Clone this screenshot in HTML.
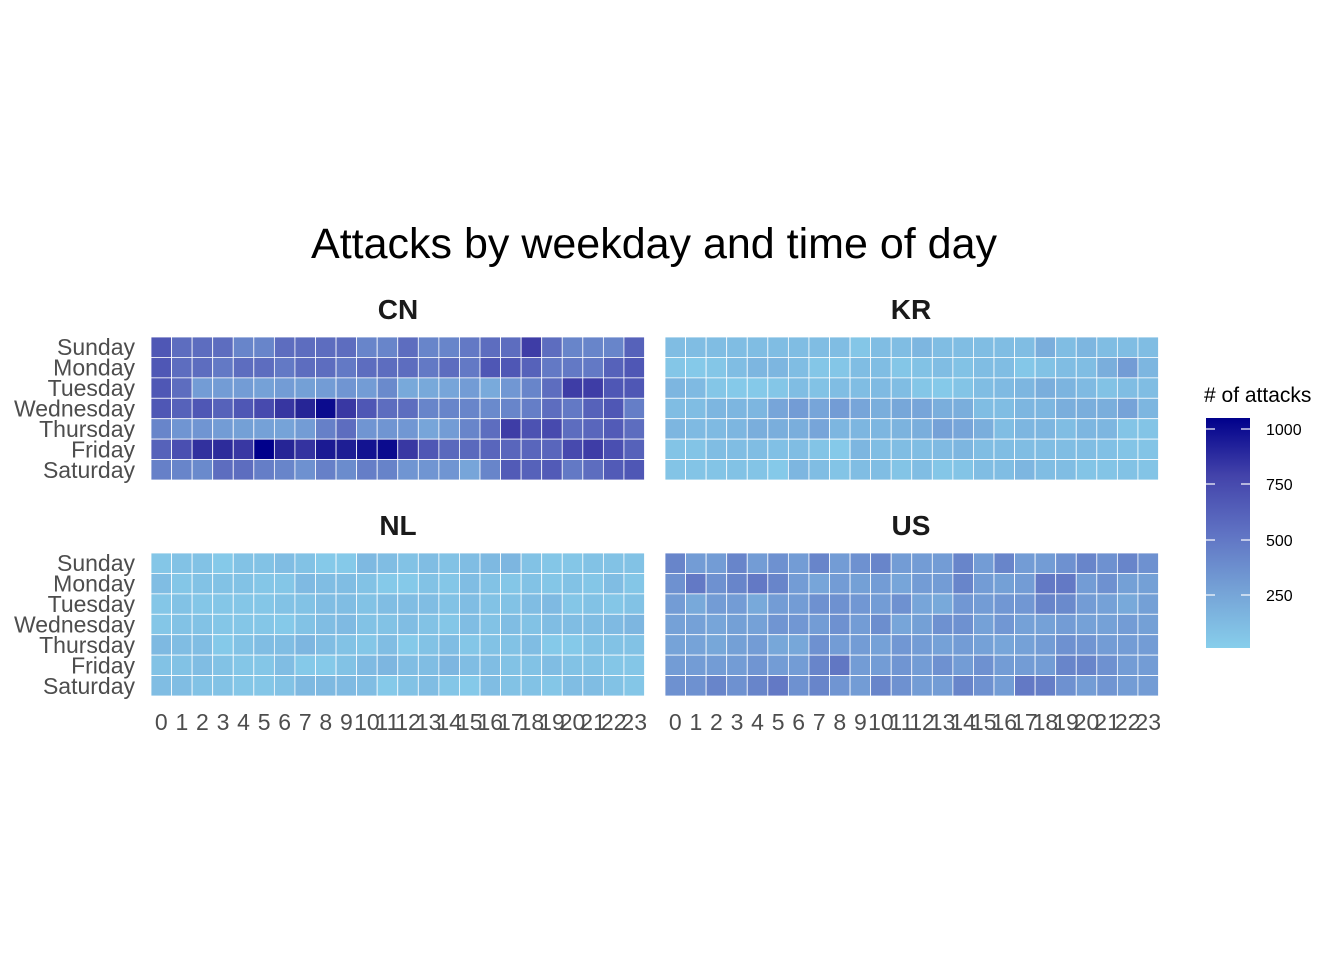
<!DOCTYPE html>
<html><head><meta charset="utf-8"><style>
html,body{margin:0;padding:0;background:#fff;}
svg text{font-family:"Liberation Sans",Arial,sans-serif;}
</style></head><body>
<svg id="s" width="1344" height="960" xmlns="http://www.w3.org/2000/svg">
<defs><linearGradient id="lg" x1="0" y1="1" x2="0" y2="0">
<stop offset="0" stop-color="#87CEEB"/><stop offset="0.25" stop-color="#75A2D6"/>
<stop offset="0.5" stop-color="#5F72C3"/><stop offset="0.75" stop-color="#4343AA"/>
<stop offset="1" stop-color="#00008B"/></linearGradient></defs>
<rect width="1344" height="960" fill="#fff"/>
<text x="654" y="258" font-size="43" text-anchor="middle" fill="#000">Attacks by weekday and time of day</text>
<text x="398" y="319" font-size="28" font-weight="bold" text-anchor="middle" fill="#1a1a1a">CN</text>
<text x="911" y="319" font-size="28" font-weight="bold" text-anchor="middle" fill="#1a1a1a">KR</text>
<text x="398" y="535" font-size="28" font-weight="bold" text-anchor="middle" fill="#1a1a1a">NL</text>
<text x="911" y="535" font-size="28" font-weight="bold" text-anchor="middle" fill="#1a1a1a">US</text>
<g id="cells"></g>
<g id="labels" font-size="23" fill="#4d4d4d"></g>
<text x="1204" y="402" font-size="21" fill="#000"># of attacks</text>
<rect x="1206" y="418" width="44" height="230" fill="url(#lg)"/>
<g stroke="#fff" stroke-width="1.2">
<line x1="1206" y1="429" x2="1215" y2="429"/><line x1="1241" y1="429" x2="1250" y2="429"/>
<line x1="1206" y1="484" x2="1215" y2="484"/><line x1="1241" y1="484" x2="1250" y2="484"/>
<line x1="1206" y1="540" x2="1215" y2="540"/><line x1="1241" y1="540" x2="1250" y2="540"/>
<line x1="1206" y1="595" x2="1215" y2="595"/><line x1="1241" y1="595" x2="1250" y2="595"/>
</g>
<g font-size="16" fill="#000">
<text x="1266" y="435">1000</text><text x="1266" y="490">750</text>
<text x="1266" y="546">500</text><text x="1266" y="601">250</text>
</g>
</svg>
<script>
var stops=[[0,[135,206,235]],[1,[128,189,227]],[2,[122,174,220]],[3,[115,156,213]],[4,[104,133,202]],[5,[93,109,191]],[6,[79,87,181]],[7,[62,61,166]],[8,[38,37,150]],[9,[0,0,139]]];
function col(v){if(v<=0)return 'rgb(135,206,235)';if(v>=9)return 'rgb(0,0,139)';var i=Math.floor(v),f=v-i,a=stops[i][1],b=stops[i+1][1];
return 'rgb('+[0,1,2].map(function(k){return Math.round(a[k]+(b[k]-a[k])*f)}).join(',')+')';}
var CN=[
[6,5,5,5,4,4,5,5,5,5,4,4,5,4,4,4.5,5,5,7,5,4,4,4,5.5],
[6,5,5,4.5,5,5,4.5,5,5,4.5,5,5,5,4.5,5,4.5,6,6,5.5,4.5,4.5,4.5,5.5,6],
[6,5,3,3,3,2.7,3,2.8,3,3.3,3,3.8,2.3,2.3,2.5,3,2.2,3.2,4,5,7,7,6,6],
[6,5.5,6,5.5,6,6.5,7.3,8,8.7,7.2,6,5,5,4,4,4,3.8,4,4.3,5,4.5,5.5,6,4.3],
[4,3.3,3.3,3,2.8,2.7,2.6,3,4.2,5,3.3,3.3,3.2,2.5,3,4,5,7,6.2,6.5,5,5.3,5.8,5],
[5.5,6.3,7.5,7.7,7.2,9,8,7.4,8.3,8.2,8.5,8.7,7.2,6,5.2,5.2,5.3,5.3,5.3,5.3,6.5,7,6.3,5.5],
[4.2,4,3.8,5,5,4.3,4,3.5,4.2,3.7,4.3,4.1,3.3,3.3,3.3,2.5,4,5.8,5.5,5.8,4.5,5,5.8,6]];
var KR=[
[1,1,1,1,1,1,1,1,1,0.5,1,1,1.5,1,1,1,1,1,2,1,1.5,1,1,1],
[0.5,0.3,0.5,1,1.5,1.5,1,0.5,0.5,1,1,0.5,0.7,1,0.7,1,1,0.4,0.7,1,1,2,3,1.5],
[1.5,1.2,0.5,0.3,0.3,0.5,1,0.7,1,1,1.2,1,0.5,0.3,0.6,1,1.2,1.5,2,1.6,1.2,0.7,1,1],
[1,1,1.5,1.5,1.5,2.5,3,2.5,3,2.5,2,2.4,2.5,2,2,1,1,1.5,1.5,2,2,2,2.6,1.5],
[1.5,1.2,1.2,1.5,2,2,2,2.5,1.5,1.5,1.5,1.7,2,2.7,2.5,2,1,1.5,1.5,1,1.5,1.5,0.6,0.6],
[0.6,0.6,1,1,1,0.8,1,0.6,0.3,1.5,1,1,1,1.2,1.5,1,1,1,1,1,1,0.8,0.6,0.6],
[0.6,0.6,0.6,0.7,0.6,0.3,1.5,1,0.6,1,1,0.6,1,0.5,0.6,1,1,1.5,1,1,0.6,0.6,0.7,0.6]];
var NL=[
[.5,.7,.7,.3,.7,.7,1,.7,.3,.3,1.3,1,.7,1,.7,1,1.3,1.5,.7,.5,.5,.7,.7,.7],
[1,.5,.7,.7,.7,.5,.5,1.2,1,1,.7,.3,.3,.7,.5,1,.7,.5,.7,.5,.7,.5,1,.5],
[.5,.7,.5,.5,.5,.5,.7,.7,1,1,.7,1,1,1,.7,1,.7,.7,1,1.2,.5,.7,.5,.7],
[.5,.7,.7,.5,.5,.5,.3,.7,1,1.2,.7,.7,1,.7,.5,1,.7,1,.7,1,1,1,1.2,1.5],
[1.3,1,1,.3,.7,1,1,1.5,1,.7,.5,1,.3,.7,1,.5,.7,.7,1,.3,.3,.7,.7,.7],
[.7,.7,1,.7,.5,.5,1,.3,.3,.7,1.2,1.5,1,1,1.5,1,1,.7,.7,1,.7,.7,.5,.5],
[1,1,.7,.7,.5,.5,.7,1.3,1.3,1.2,1,.3,.7,1,.5,.3,1,.7,.7,.5,1,1,.7,.5]];
var US=[
[4,3,3,4,3,3.5,3,4,3,3.5,4,3,3,3,4,3,4,3,3,3.5,4,3.5,4,3.5],
[3.5,4.5,3.5,4,4.5,4,3,2.5,3,2.8,3,2.5,3,3,4,3,2.8,3,4.5,4.5,3,3.5,2.8,2.8],
[3,2.3,3,3,2.3,3,3,3.5,3.5,3.2,3,3.5,2.5,2.3,3.2,3,3.2,3.2,4,3.8,3,2.7,2.3,2.8],
[2.7,2.7,2.5,2.8,2.7,3.3,3.2,3,3.5,3,3.6,2.5,2.8,3.5,3.5,2.7,3.2,2.7,2.7,3,2.7,2.7,3,2.8],
[2.6,2.6,2.4,2.8,3,2.4,2.4,3.5,3,3,2.7,3.2,3,2.7,3,2.7,2.5,2.7,3,3.5,3.3,3,3,3],
[3,3,3,3,3.3,3,3,4,4.6,3,3,3.3,3,3.5,3,3.5,3,3,3,4,4,3.5,3,3],
[3.5,3.5,4,3.5,4,4.5,3.5,4,3.3,3,4,3.5,3,3,4,3.5,3,4.5,4.3,3.5,3,3.3,3,3]];
var NS='http://www.w3.org/2000/svg',g=document.getElementById('cells'),L=document.getElementById('labels');
function el(t,a,p){var e=document.createElementNS(NS,t);for(var k in a)e.setAttribute(k,a[k]);p.appendChild(e);return e;}
var W=493.5/24,H=143/7;
function panel(d,x0,y0){for(var r=0;r<7;r++)for(var c=0;c<24;c++)
el('rect',{x:x0+c*W,y:y0+r*H,width:W,height:H,fill:col(d[r][c]),stroke:'#fff','stroke-width':0.8},g);}
panel(CN,151,337);panel(KR,665,337);panel(NL,151,553);panel(US,665,553);
var days=['Sunday','Monday','Tuesday','Wednesday','Thursday','Friday','Saturday'];
[337,553].forEach(function(y0){days.forEach(function(d,i){var t=el('text',{x:135,y:y0+i*H+H/2+8,'text-anchor':'end'},L);t.textContent=d;});});
[151,665].forEach(function(x0){for(var c=0;c<24;c++){var t=el('text',{x:x0+c*W+W/2,y:730,'text-anchor':'middle'},L);t.textContent=c;}});
</script>
</body></html>
